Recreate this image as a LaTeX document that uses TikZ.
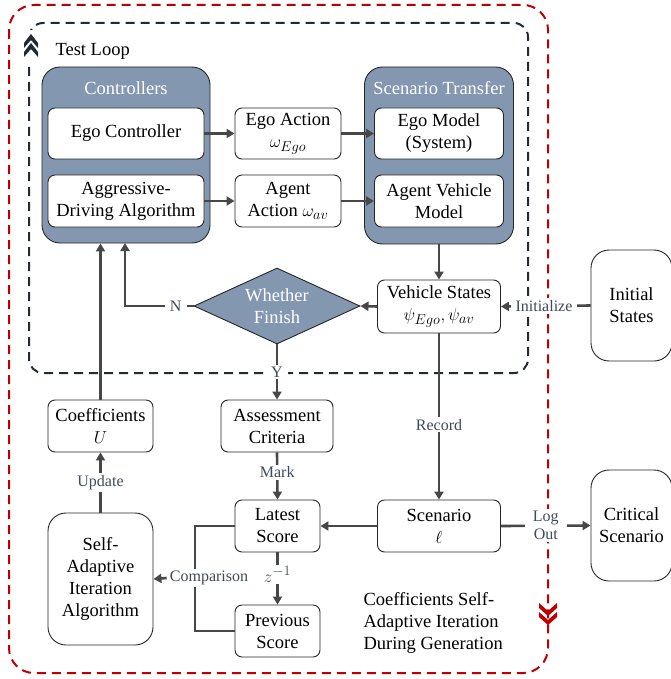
\documentclass[tikz,border=0pt]{standalone}
\usepackage{fontspec}
\setmainfont{Liberation Serif}
\usepackage{xcolor}
\usetikzlibrary{shapes.geometric, arrows.meta, positioning}
\DeclareMathSizes{18.5}{19}{15}{12}
\DeclareMathSizes{16}{17}{14}{11}
\definecolor{steel}{HTML}{8497B0}
\definecolor{lblgray}{HTML}{3F4A5C}
\definecolor{flowgray}{HTML}{474747}
\definecolor{loopred}{HTML}{C00000}
\definecolor{loopdark}{HTML}{222A35}

\begin{document}
\begin{tikzpicture}[x=1pt, y=-1pt,
            box/.style={draw=black!85, line width=0.9pt, rounded corners=7pt, fill=white, align=center, inner sep=1pt, font=\fontsize{18.5}{22}\selectfont},
            bigbox/.style={box, rounded corners=18pt},
            group/.style={draw=black!85, line width=0.9pt, rounded corners=18pt, fill=steel},
            grouptitle/.style={text=white, font=\fontsize{18.5}{22}\selectfont},
            lbl/.style={fill=white, text=lblgray, inner xsep=5pt, inner ysep=2pt, align=center, font=\fontsize{16}{18}\selectfont},
            flow/.style={draw=flowgray, line width=2.6pt, -{Triangle[length=8pt,width=9pt]}},
            link/.style={draw=flowgray, line width=2.6pt}]
            \useasboundingbox (0,0) rectangle (670,679);
            \draw[loopred, line width=2pt, dash pattern=on 9pt off 6pt, rounded corners=25pt] (9,5) rectangle (548,673);
            \draw[loopdark, line width=2pt, dash pattern=on 9pt off 6pt, rounded corners=14pt] (29,23) rectangle (528,373);
            \fill[white] (22,30) rectangle (38,62);
            \foreach \dy in {0,9} {
                \fill[loopdark] (24,43+\dy) -- (31,34+\dy) -- (38,43+\dy) -- (38,48+\dy) -- (31,40+\dy) -- (24,48+\dy) -- cycle;
                \fill[loopred] (539,603+\dy) -- (548,611+\dy) -- (557,603+\dy) -- (557,608+\dy) -- (548,616+\dy) -- (539,608+\dy) -- cycle;
            }
            \node[font=\fontsize{18.5}{22}\selectfont, anchor=west] (looptitle) at (52,51) {Test Loop};

            \node[group, minimum width=168pt, minimum height=176pt] (ctrl) at (126,155) {};
            \node[grouptitle] (ctrltitle) at (126,88) {Controllers};
            \node[group, minimum width=149pt, minimum height=177pt] (transfer) at (439,155.5) {};
            \node[grouptitle] (transfertitle) at (439,88) {Scenario Transfer};

            \node[box, minimum width=156pt, minimum height=51pt] (egoctrl) at (126,133.5) {Ego Controller};
            \node[box, minimum width=156pt, minimum height=52pt] (aggr) at (126,201) {Aggressive-\\Driving Algorithm};
            \node[box, minimum width=106pt, minimum height=51pt] (egoact) at (288,133.5) {Ego Action\\$\omega_{Ego}$};
            \node[box, minimum width=106pt, minimum height=52pt] (agentact) at (288,201) {Agent\\Action $\omega_{av}$};
            \node[box, minimum width=129pt, minimum height=51pt] (egomodel) at (439,133.5) {Ego Model\\(System)};
            \node[box, minimum width=129pt, minimum height=52pt] (agentmodel) at (439,201) {Agent Vehicle\\Model};

            \node[box, minimum width=123pt, minimum height=53pt] (states) at (439,306.5) {Vehicle States\\$\psi_{Ego},\psi_{av}$};
            \node[diamond, draw=black!85, line width=0.9pt, fill=steel, text=white, aspect=2.2, inner sep=0pt, minimum width=166pt, minimum height=76pt, align=center, font=\fontsize{18.5}{22}\selectfont] (finish) at (277,306) {Whether\\Finish};
            \node[bigbox, minimum width=81pt, minimum height=111pt] (init) at (631.5,305.5) {Initial\\States};

            \node[box, minimum width=105pt, minimum height=52pt] (coeff) at (100.5,426) {Coefficients\\$U$};
            \node[box, minimum width=112pt, minimum height=52pt] (assess) at (277,426) {Assessment\\Criteria};
            \node[bigbox, minimum width=105pt, minimum height=132pt] (selfad) at (100.5,579) {Self-\\Adaptive\\Iteration\\Algorithm};
            \node[box, minimum width=85pt, minimum height=52pt] (latest) at (277.5,526) {Latest\\Score};
            \node[box, minimum width=85pt, minimum height=52pt] (previous) at (277.5,631) {Previous\\Score};
            \node[box, minimum width=123pt, minimum height=52pt] (scenario) at (439,526) {Scenario\\$\ell$};
            \node[bigbox, minimum width=81pt, minimum height=111pt] (critical) at (631.5,525.5) {Critical\\Scenario};
            \node[anchor=north west, align=left, font=\fontsize{18.5}{22}\selectfont] (caption) at (360,589) {Coefficients Self-\\Adaptive Iteration\\During Generation};

            \coordinate (nup) at (125,243);
            \coordinate (cmpx) at (195,526);

            \draw[flow] (egoctrl) -- (egoact);
            \draw[flow] (aggr) -- (agentact);
            \draw[flow] (egoact) -- (egomodel);
            \draw[flow] (agentact) -- (agentmodel);
            \draw[flow] (transfer.south) -- (states.north);
            \draw[flow] (states.west) -- (finish.east);
            \draw[flow] (finish.west) -| node[lbl, pos=0.13] {N} (nup);
            \draw[flow] (init.west) -- node[lbl, pos=0.52] {Initialize} (states.east);
            \draw[flow] (finish.south) -- node[lbl, pos=0.5] {Y} (assess.north);
            \draw[flow] (states.south) -- node[lbl, pos=0.55] {Record} (scenario.north);
            \draw[flow] (coeff.north) -- (coeff.north |- ctrl.south);
            \draw[flow] (selfad.north) -- node[lbl] {Update} (coeff.south);
            \draw[flow] (assess.south) -- node[lbl, pos=0.42] {Mark} (latest.north);
            \draw[flow] (latest.south) -- node[lbl, pos=0.42] {$z^{-1}$} (previous.north);
            \draw[flow] (scenario.west) -- (latest.east);
            \draw[flow] (scenario.east) -- node[lbl, inner xsep=8pt] {Log\\Out} (critical.west);
            \draw[link] (latest.west) -- (cmpx) |- (previous.west);
            \node[lbl, inner xsep=3pt] (cmp) at (209,578) {Comparison};
            \draw[flow] (cmp.west) -- (selfad.east);
        \end{tikzpicture}
\end{document}
